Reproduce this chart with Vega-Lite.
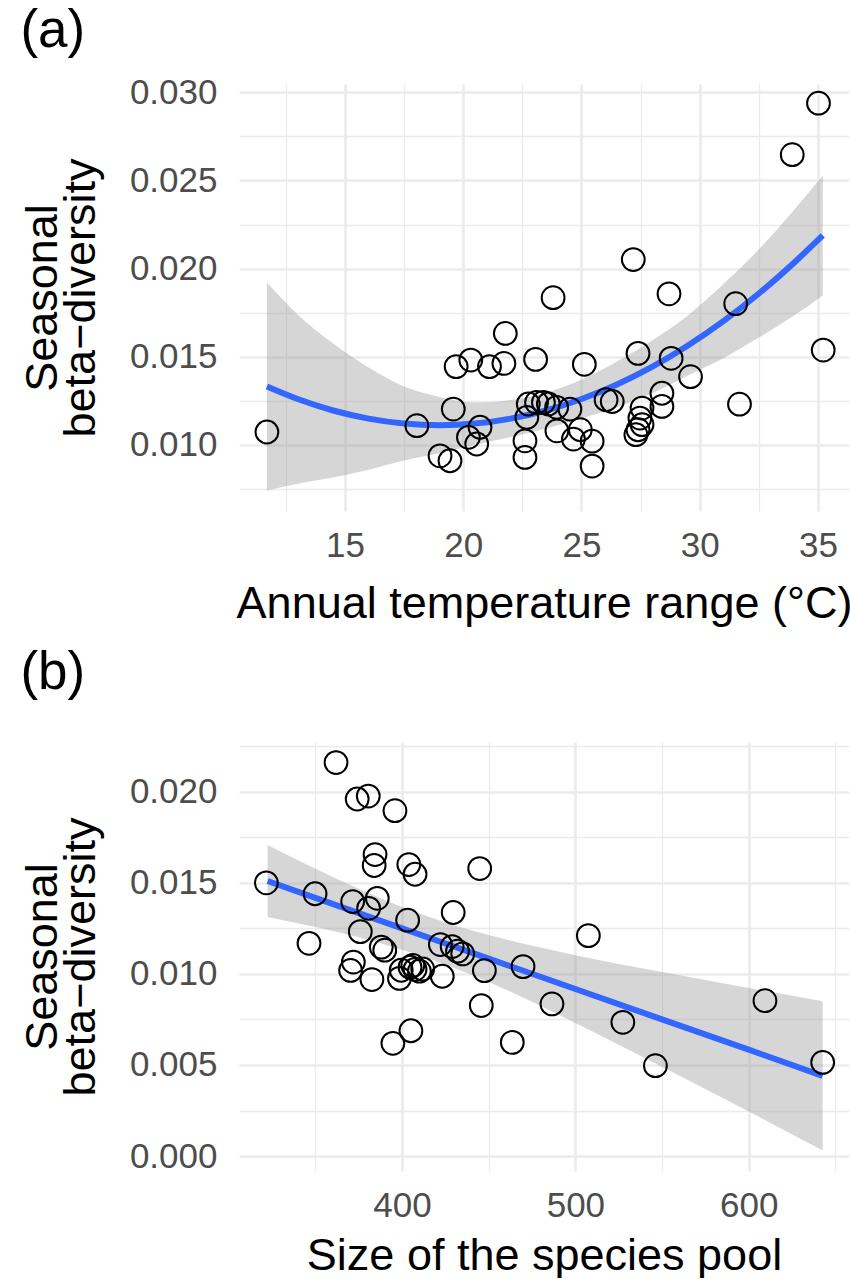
{
  "$schema": "https://vega.github.io/schema/vega-lite/v6.json",
  "background": "white",
  "padding": {"left": 20, "top": 5, "right": 0, "bottom": 0},
  "config": {
    "font": "Liberation Sans",
    "view": {"stroke": null},
    "axis": {
      "domain": false, "ticks": false, "tickSize": 0,
      "labelFontSize": 35, "labelColor": "#4D4D4D", "labelFont": "Liberation Sans",
      "titleFontSize": 45, "titleFontWeight": "normal", "titleColor": "black", "titleFont": "Liberation Sans",
      "gridColor": "#EBEBEB", "labelOverlap": false, "labelFlush": false
    },
    "title": {"fontSize": 53, "fontWeight": "normal", "anchor": "start", "frame": "bounds", "color": "black", "font": "Liberation Sans"},
    "concat": {"spacing": 21}
  },
  "datasets": {
    "a_pts": [
      {"temp": 11.70, "beta": 0.01073}, {"temp": 23.80, "beta": 0.01835}, {"temp": 28.70, "beta": 0.01857},
      {"temp": 31.52, "beta": 0.01801}, {"temp": 35.22, "beta": 0.01538}, {"temp": 21.78, "beta": 0.01632},
      {"temp": 19.70, "beta": 0.01444}, {"temp": 20.32, "beta": 0.01481}, {"temp": 21.11, "beta": 0.01444},
      {"temp": 21.72, "beta": 0.01462}, {"temp": 23.06, "beta": 0.01485}, {"temp": 25.12, "beta": 0.01457},
      {"temp": 27.39, "beta": 0.01519}, {"temp": 28.79, "beta": 0.01491}, {"temp": 29.61, "beta": 0.01387},
      {"temp": 28.40, "beta": 0.01293}, {"temp": 28.40, "beta": 0.01218}, {"temp": 31.68, "beta": 0.01231},
      {"temp": 26.30, "beta": 0.01246}, {"temp": 26.04, "beta": 0.01256}, {"temp": 27.56, "beta": 0.01209},
      {"temp": 27.47, "beta": 0.01152}, {"temp": 27.39, "beta": 0.01086}, {"temp": 27.30, "beta": 0.01058},
      {"temp": 27.56, "beta": 0.01115}, {"temp": 25.45, "beta": 0.01021}, {"temp": 25.45, "beta": 0.00880},
      {"temp": 24.95, "beta": 0.01086}, {"temp": 24.66, "beta": 0.01033}, {"temp": 23.96, "beta": 0.01080},
      {"temp": 24.51, "beta": 0.01203}, {"temp": 23.95, "beta": 0.01213}, {"temp": 23.60, "beta": 0.01232},
      {"temp": 23.39, "beta": 0.01241}, {"temp": 23.10, "beta": 0.01241}, {"temp": 22.75, "beta": 0.01232},
      {"temp": 22.69, "beta": 0.01156}, {"temp": 22.61, "beta": 0.01023}, {"temp": 22.61, "beta": 0.00929},
      {"temp": 19.58, "beta": 0.01203}, {"temp": 18.04, "beta": 0.01109}, {"temp": 20.71, "beta": 0.01100},
      {"temp": 20.22, "beta": 0.01043}, {"temp": 20.57, "beta": 0.01005}, {"temp": 19.02, "beta": 0.00938},
      {"temp": 19.44, "beta": 0.00910}, {"temp": 35.02, "beta": 0.02938}, {"temp": 33.91, "beta": 0.02646},
      {"temp": 27.19, "beta": 0.02051}
    ],
    "a_fit": [
      {"temp": 11.7, "fit": 0.01331, "lo": 0.00741, "hi": 0.01921},
      {"temp": 13.0, "fit": 0.01260, "lo": 0.00780, "hi": 0.01740},
      {"temp": 14.5, "fit": 0.01195, "lo": 0.00815, "hi": 0.01575},
      {"temp": 16.0, "fit": 0.01149, "lo": 0.00859, "hi": 0.01439},
      {"temp": 17.5, "fit": 0.01121, "lo": 0.00911, "hi": 0.01331},
      {"temp": 19.0, "fit": 0.01112, "lo": 0.00952, "hi": 0.01272},
      {"temp": 20.5, "fit": 0.01121, "lo": 0.01001, "hi": 0.01241},
      {"temp": 22.0, "fit": 0.01149, "lo": 0.01044, "hi": 0.01254},
      {"temp": 23.5, "fit": 0.01195, "lo": 0.01093, "hi": 0.01297},
      {"temp": 25.0, "fit": 0.01260, "lo": 0.01150, "hi": 0.01370},
      {"temp": 26.5, "fit": 0.01343, "lo": 0.01213, "hi": 0.01473},
      {"temp": 28.0, "fit": 0.01444, "lo": 0.01294, "hi": 0.01594},
      {"temp": 29.5, "fit": 0.01564, "lo": 0.01394, "hi": 0.01734},
      {"temp": 31.0, "fit": 0.01702, "lo": 0.01492, "hi": 0.01912},
      {"temp": 32.5, "fit": 0.01859, "lo": 0.01609, "hi": 0.02109},
      {"temp": 34.0, "fit": 0.02035, "lo": 0.01735, "hi": 0.02335},
      {"temp": 35.2, "fit": 0.02188, "lo": 0.01848, "hi": 0.02528}
    ],
    "b_pts": [
      {"pool": 361.9, "beta": 0.02160}, {"pool": 374.1, "beta": 0.01960}, {"pool": 380.5, "beta": 0.01976},
      {"pool": 395.9, "beta": 0.01896}, {"pool": 384.4, "beta": 0.01655}, {"pool": 383.9, "beta": 0.01595},
      {"pool": 403.9, "beta": 0.01600}, {"pool": 407.5, "beta": 0.01547}, {"pool": 444.8, "beta": 0.01578},
      {"pool": 321.7, "beta": 0.01500}, {"pool": 349.8, "beta": 0.01440}, {"pool": 371.5, "beta": 0.01397},
      {"pool": 385.7, "beta": 0.01415}, {"pool": 380.7, "beta": 0.01360}, {"pool": 403.2, "beta": 0.01295},
      {"pool": 429.5, "beta": 0.01337}, {"pool": 507.5, "beta": 0.01210}, {"pool": 346.3, "beta": 0.01168},
      {"pool": 375.9, "beta": 0.01232}, {"pool": 388.0, "beta": 0.01147}, {"pool": 371.9, "beta": 0.01065},
      {"pool": 370.3, "beta": 0.01019}, {"pool": 382.6, "beta": 0.00969}, {"pool": 398.5, "beta": 0.00975},
      {"pool": 399.5, "beta": 0.01020}, {"pool": 404.6, "beta": 0.01037}, {"pool": 407.5, "beta": 0.01025},
      {"pool": 410.0, "beta": 0.01015}, {"pool": 411.9, "beta": 0.01027}, {"pool": 406.2, "beta": 0.01046},
      {"pool": 423.2, "beta": 0.00987}, {"pool": 422.1, "beta": 0.01161}, {"pool": 428.9, "beta": 0.01150},
      {"pool": 435.0, "beta": 0.01110}, {"pool": 447.5, "beta": 0.01018}, {"pool": 469.8, "beta": 0.01040},
      {"pool": 445.7, "beta": 0.00826}, {"pool": 486.5, "beta": 0.00835}, {"pool": 609.4, "beta": 0.00853},
      {"pool": 527.4, "beta": 0.00734}, {"pool": 405.1, "beta": 0.00688}, {"pool": 394.7, "beta": 0.00619},
      {"pool": 463.6, "beta": 0.00624}, {"pool": 546.2, "beta": 0.00496}, {"pool": 642.7, "beta": 0.00514},
      {"pool": 432.0, "beta": 0.01125}, {"pool": 390.0, "beta": 0.01130}
    ],
    "b_fit": [
      {"pool": 322.4, "fit": 0.01510, "lo": 0.01313, "hi": 0.01707},
      {"pool": 350.0, "fit": 0.01417, "lo": 0.01257, "hi": 0.01577},
      {"pool": 375.0, "fit": 0.01334, "lo": 0.01201, "hi": 0.01467},
      {"pool": 400.0, "fit": 0.01250, "lo": 0.01133, "hi": 0.01367},
      {"pool": 425.0, "fit": 0.01167, "lo": 0.01052, "hi": 0.01282},
      {"pool": 450.0, "fit": 0.01084, "lo": 0.00955, "hi": 0.01213},
      {"pool": 500.0, "fit": 0.00917, "lo": 0.00731, "hi": 0.01103},
      {"pool": 550.0, "fit": 0.00750, "lo": 0.00490, "hi": 0.01010},
      {"pool": 600.0, "fit": 0.00584, "lo": 0.00245, "hi": 0.00923},
      {"pool": 642.7, "fit": 0.00440, "lo": 0.00030, "hi": 0.00850}
    ]
  },
  "vconcat": [
    {
      "title": {"text": "(a)", "offset": 17},
      "width": 610,
      "height": 427,
      "layer": [
        {
          "data": {"name": "a_fit"},
          "mark": {"type": "area", "color": "#999999", "opacity": 0.4, "interpolate": "monotone"},
          "encoding": {
            "x": {"field": "temp", "type": "quantitative", "scale": {"domain": [10.52, 36.31], "nice": false, "zero": false},
              "axis": {"title": "Annual temperature range (°C)", "values": [12.5, 15, 17.5, 20, 22.5, 25, 27.5, 30, 32.5, 35],
                "labelExpr": "datum.value % 5 === 0 ? format(datum.value, 'd') : ''",
                "gridWidth": {"condition": {"test": "datum.value % 5 === 0", "value": 2.6}, "value": 1.3},
                "labelPadding": 17, "titlePadding": 18}},
            "y": {"field": "lo", "type": "quantitative", "title": ["Seasonal", "beta−diversity"],
              "scale": {"domain": [0.00625, 0.03047], "nice": false, "zero": false},
              "axis": {"values": [0.0075, 0.01, 0.0125, 0.015, 0.0175, 0.02, 0.0225, 0.025, 0.0275, 0.03],
                "labelExpr": "abs(datum.value*200 - round(datum.value*200)) < 1e-6 ? format(datum.value, '.3f') : ''",
                "gridWidth": {"condition": {"test": "abs(datum.value*200 - round(datum.value*200)) < 1e-6", "value": 2.6}, "value": 1.3},
                "labelPadding": 22, "titlePadding": 26, "titleLineHeight": 38}},
            "y2": {"field": "hi"}
          }
        },
        {
          "data": {"name": "a_fit"},
          "mark": {"type": "line", "color": "#3366FF", "strokeWidth": 6, "interpolate": "monotone"},
          "encoding": {
            "x": {"field": "temp", "type": "quantitative"},
            "y": {"field": "fit", "type": "quantitative", "title": ["Seasonal", "beta−diversity"]}
          }
        },
        {
          "data": {"name": "a_pts"},
          "mark": {"type": "point", "shape": "circle", "filled": false, "color": "black", "size": 520, "strokeWidth": 2, "opacity": 1},
          "encoding": {
            "x": {"field": "temp", "type": "quantitative"},
            "y": {"field": "beta", "type": "quantitative", "title": ["Seasonal", "beta−diversity"]}
          }
        }
      ]
    },
    {
      "title": {"text": "(b)", "offset": 29},
      "width": 610,
      "height": 429,
      "layer": [
        {
          "data": {"name": "b_fit"},
          "mark": {"type": "area", "color": "#999999", "opacity": 0.4, "interpolate": "monotone"},
          "encoding": {
            "x": {"field": "pool", "type": "quantitative", "scale": {"domain": [305.9, 657.9], "nice": false, "zero": false},
              "axis": {"title": "Size of the species pool", "values": [350, 400, 450, 500, 550, 600, 650],
                "labelExpr": "datum.value % 100 === 0 ? format(datum.value, 'd') : ''",
                "gridWidth": {"condition": {"test": "datum.value % 100 === 0", "value": 2.6}, "value": 1.3},
                "labelPadding": 17, "titlePadding": 10}},
            "y": {"field": "lo", "type": "quantitative", "title": ["Seasonal", "beta−diversity"],
              "scale": {"domain": [-0.00082, 0.02273], "nice": false, "zero": false},
              "axis": {"values": [0, 0.0025, 0.005, 0.0075, 0.01, 0.0125, 0.015, 0.0175, 0.02, 0.0225],
                "labelExpr": "abs(datum.value*200 - round(datum.value*200)) < 1e-6 ? format(datum.value, '.3f') : ''",
                "gridWidth": {"condition": {"test": "abs(datum.value*200 - round(datum.value*200)) < 1e-6", "value": 2.6}, "value": 1.3},
                "labelPadding": 22, "titlePadding": 26, "titleLineHeight": 38}},
            "y2": {"field": "hi"}
          }
        },
        {
          "data": {"name": "b_fit"},
          "mark": {"type": "line", "color": "#3366FF", "strokeWidth": 6},
          "encoding": {
            "x": {"field": "pool", "type": "quantitative"},
            "y": {"field": "fit", "type": "quantitative", "title": ["Seasonal", "beta−diversity"]}
          }
        },
        {
          "data": {"name": "b_pts"},
          "mark": {"type": "point", "shape": "circle", "filled": false, "color": "black", "size": 520, "strokeWidth": 2, "opacity": 1},
          "encoding": {
            "x": {"field": "pool", "type": "quantitative"},
            "y": {"field": "beta", "type": "quantitative", "title": ["Seasonal", "beta−diversity"]}
          }
        }
      ]
    }
  ]
}
